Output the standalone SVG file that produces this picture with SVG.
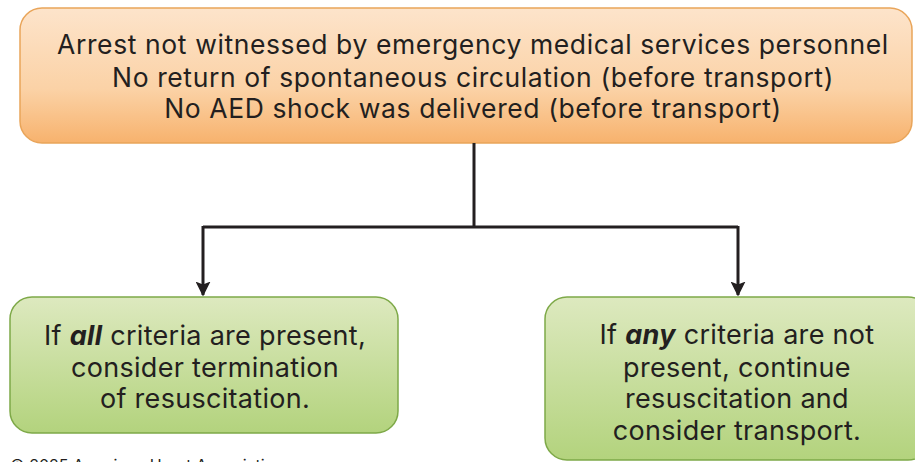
<svg xmlns="http://www.w3.org/2000/svg" width="915" height="462" viewBox="0 0 915 462">
<defs>
<linearGradient id="gOrange" x1="0" y1="0" x2="0" y2="1">
<stop offset="0" stop-color="#fde4cb"/>
<stop offset="0.6" stop-color="#fbd2a6"/>
<stop offset="1" stop-color="#f7b26d"/>
</linearGradient>
<linearGradient id="gGreen" x1="0" y1="0" x2="0" y2="1">
<stop offset="0" stop-color="#dde9bf"/>
<stop offset="1" stop-color="#b3d37d"/>
</linearGradient>
<marker id="arrow" viewBox="0 0 10 10" refX="9" refY="5" markerWidth="5" markerHeight="5" orient="auto" markerUnits="strokeWidth">
<path d="M0,0 L10,5 L0,10 L2,5 z" fill="#231f20"/>
</marker>
<style>
text{font-family:Inter,"Liberation Sans",Arial,sans-serif;fill:#231f20;}
.t{font-size:26.5px;letter-spacing:0.6px;text-anchor:middle;}
.g{font-size:27px;letter-spacing:0.3px;text-anchor:middle;}
.b{font-weight:700;font-style:italic;}
.conn{fill:none;stroke:#231f20;stroke-width:3;}
</style>
</defs>
<g id="top">
<rect x="20" y="8" width="892" height="135" rx="22" fill="url(#gOrange)" stroke="#e9a55a" stroke-width="1.5"/>
<text class="t" x="473" y="54">Arrest not witnessed by emergency medical services personnel</text>
<text class="t" x="473" y="87">No return of spontaneous circulation (before transport)</text>
<text class="t" x="473" y="118">No AED shock was delivered (before transport)</text>
</g>
<g id="connectors">
<path class="conn" d="M474,143 V227"/>
<path class="conn" d="M203,227 H738"/>
<path class="conn" d="M203,226 V295" marker-end="url(#arrow)"/>
<path class="conn" d="M738,226 V295" marker-end="url(#arrow)"/>
</g>
<g id="left">
<rect x="10" y="297" width="388" height="136" rx="22" fill="url(#gGreen)" stroke="#7ea948" stroke-width="1.5"/>
<text class="g" x="205" y="345">If <tspan class="b">all</tspan> criteria are present,</text>
<text class="g" x="205" y="377">consider termination</text>
<text class="g" x="205" y="408">of resuscitation.</text>
</g>
<g id="right">
<rect x="545" y="297" width="385" height="163" rx="22" fill="url(#gGreen)" stroke="#7ea948" stroke-width="1.5"/>
<text class="g" x="737" y="344">If <tspan class="b">any</tspan> criteria are not</text>
<text class="g" x="737" y="377">present, continue</text>
<text class="g" x="737" y="408">resuscitation and</text>
<text class="g" x="737" y="440">consider transport.</text>
</g>
<text x="10" y="471" font-size="16">© 2025 American Heart Association</text>
</svg>
